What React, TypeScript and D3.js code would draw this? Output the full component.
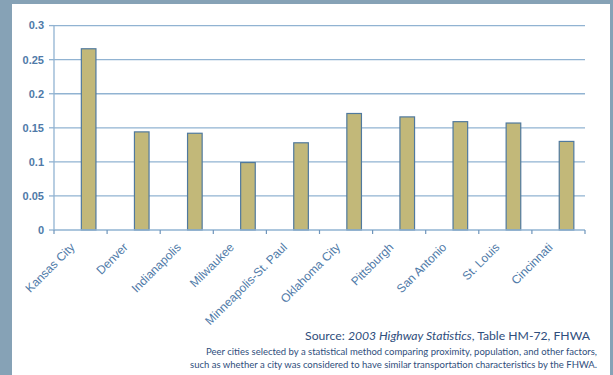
import React, { useRef, useEffect } from "react";
import * as d3 from "d3";

const cities: string[] = [
  "Kansas City",
  "Denver",
  "Indianapolis",
  "Milwaukee",
  "Minneapolis-St. Paul",
  "Oklahoma City",
  "Pittsburgh",
  "San Antonio",
  "St. Louis",
  "Cincinnati",
];
const values: number[] = [0.266, 0.144, 0.142, 0.099, 0.128, 0.171, 0.166, 0.159, 0.157, 0.13];
const yTicks: number[] = [0, 0.05, 0.1, 0.15, 0.2, 0.25, 0.3];
const yTickLabels: string[] = ["0", "0.05", "0.1", "0.15", "0.2", "0.25", "0.3"];

const App: React.FC = () => {
  const svgRef = useRef<SVGSVGElement | null>(null);

  useEffect(() => {
    const width = 613;
    const height = 375;
    const margin = { top: 25.6, left: 54, right: 28, bottom: 145 };
    const blue = "#4f7aa8";
    const grid = "#91b3d2";

    const root = d3.select(svgRef.current);
    root.selectAll("*").remove();
    root.attr("width", width).attr("height", height);

    // frame
    root.append("rect").attr("width", width).attr("height", height).attr("fill", "#86a2b6");
    root.append("rect").attr("x", 12).attr("y", 4).attr("width", 598).attr("height", 380).attr("fill", "#ffffff");

    const x = d3
      .scaleBand<string>()
      .domain(cities)
      .range([margin.left, width - margin.right]);
    const y = d3
      .scaleLinear()
      .domain([0, 0.3])
      .range([height - margin.bottom, margin.top]);

    const y0 = y(0);

    // gridlines
    root
      .append("g")
      .selectAll("line")
      .data(yTicks.filter((t) => t > 0))
      .join("line")
      .attr("x1", margin.left)
      .attr("x2", width - margin.right)
      .attr("y1", (d) => y(d))
      .attr("y2", (d) => y(d))
      .attr("stroke", grid)
      .attr("stroke-width", 1.3);

    // y axis
    root
      .append("line")
      .attr("x1", margin.left)
      .attr("x2", margin.left)
      .attr("y1", y(0.3))
      .attr("y2", y0)
      .attr("stroke", grid)
      .attr("stroke-width", 1.3);
    root
      .append("g")
      .selectAll("line")
      .data(yTicks)
      .join("line")
      .attr("x1", margin.left - 5)
      .attr("x2", margin.left)
      .attr("y1", (d) => y(d))
      .attr("y2", (d) => y(d))
      .attr("stroke", grid)
      .attr("stroke-width", 1.3);
    root
      .append("g")
      .selectAll("text")
      .data(yTicks)
      .join("text")
      .attr("x", margin.left - 10)
      .attr("y", (d) => y(d))
      .attr("dy", "0.35em")
      .attr("text-anchor", "end")
      .attr("font-family", "Liberation Sans, Arial, sans-serif")
      .attr("font-size", 11)
      .attr("font-weight", "bold")
      .attr("fill", blue)
      .text((d, i) => yTickLabels[i]);

    // bars
    const bw = x.bandwidth();
    root
      .append("g")
      .selectAll("rect")
      .data(cities)
      .join("rect")
      .attr("x", (d) => (x(d) as number) + bw * 0.515)
      .attr("width", bw * 0.275)
      .attr("y", (d, i) => y(values[i]))
      .attr("height", (d, i) => y0 - y(values[i]))
      .attr("fill", "#c2b879")
      .attr("stroke", "#50799e")
      .attr("stroke-width", 1.2);

    // x axis
    root
      .append("line")
      .attr("x1", margin.left)
      .attr("x2", width - margin.right)
      .attr("y1", y0)
      .attr("y2", y0)
      .attr("stroke", grid)
      .attr("stroke-width", 1.3);
    const bounds = cities.map((c) => x(c) as number).concat([width - margin.right]);
    root
      .append("g")
      .selectAll("line")
      .data(bounds)
      .join("line")
      .attr("x1", (d) => d)
      .attr("x2", (d) => d)
      .attr("y1", y0)
      .attr("y2", y0 + 4)
      .attr("stroke", "#6f95bb")
      .attr("stroke-width", 1.2);

    root
      .append("g")
      .selectAll("text")
      .data(cities)
      .join("text")
      .attr("transform", (d) => `translate(${(x(d) as number) + bw / 2 - 5},${y0 + 18}) rotate(-45)`)
      .attr("text-anchor", "end")
      .attr("font-family", "Liberation Sans, Arial, sans-serif")
      .attr("font-size", 12)
      .attr("fill", blue)
      .text((d) => d);

    // source notes
    const notes = root
      .append("g")
      .attr("font-family", "Lato, 'Open Sans', sans-serif")
      .attr("fill", "#2f4e7c")
      .attr("text-anchor", "end");
    const src = notes.append("text").attr("x", 590).attr("y", 340).attr("font-size", 12.2);
    src.append("tspan").text("Source: ");
    src.append("tspan").attr("font-style", "italic").text("2003 Highway Statistics");
    src.append("tspan").text(", Table HM-72, FHWA");
    notes
      .append("text")
      .attr("x", 597)
      .attr("y", 355)
      .attr("font-size", 9.5)
      .text("Peer cities selected by a statistical method comparing proximity, population, and other factors,");
    notes
      .append("text")
      .attr("x", 597)
      .attr("y", 368)
      .attr("font-size", 9.5)
      .text("such as whether a city was considered to have similar transportation characteristics by the FHWA.");
  }, []);

  return (
    <div style={{ position: "absolute", left: 0, top: 0 }}>
      <svg ref={svgRef} style={{ display: "block" }}></svg>
    </div>
  );
};

export default App;
